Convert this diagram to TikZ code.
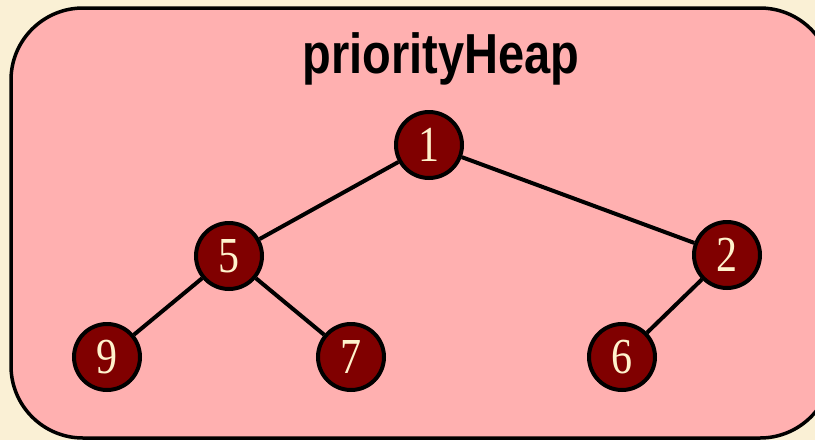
\documentclass[tikz,border=0pt]{standalone}
\usepackage{fontspec}
\usepackage{graphicx}
\usepackage{xcolor}
\usepackage{tikz}
\setmainfont{Liberation Serif}
\newfontfamily\titlefont{Liberation Sans}
\definecolor{cream}{HTML}{FAF0D5}
\definecolor{boxpink}{HTML}{FFB0B0}
\definecolor{heapred}{HTML}{800000}
\definecolor{digitcream}{HTML}{FFF2CC}
\newcommand{\tallfont}[1]{\scalebox{1}[1.2]{#1}}
\tikzset{
  heapnode/.style={circle, draw=black, line width=4pt, fill=heapred,
    minimum size=66pt, inner sep=0pt, text=digitcream,
    font=\fontsize{42}{42}\selectfont},
  heapedge/.style={line width=4pt}
}

\begin{document}
\begin{tikzpicture}[x=1pt,y=1pt]
    \useasboundingbox (0,0) rectangle (815,-440);
    \fill[cream] (0,0) rectangle (815,-440);
    \draw[line width=3.5pt, fill=boxpink, rounded corners=72pt] (11,-8) rectangle (832,-438);
    \node[anchor=base, font=\titlefont\bfseries\fontsize{47}{47}\selectfont] (title) at (441,-73) {\tallfont{priorityHeap}};
    \node[heapnode] (n1) at (429,-145) {\tallfont{1}};
    \node[heapnode] (n5) at (229,-256) {\tallfont{5}};
    \node[heapnode] (n2) at (727,-255) {\tallfont{2}};
    \node[heapnode] (n9) at (107,-357) {\tallfont{9}};
    \node[heapnode] (n7) at (351,-357) {\tallfont{7}};
    \node[heapnode] (n6) at (622,-357) {\tallfont{6}};
    \draw[heapedge] (n1) -- (n5);
    \draw[heapedge] (n1) -- (n2);
    \draw[heapedge] (n5) -- (n9);
    \draw[heapedge] (n5) -- (n7);
    \draw[heapedge] (n2) -- (n6);
  \end{tikzpicture}
\end{document}
